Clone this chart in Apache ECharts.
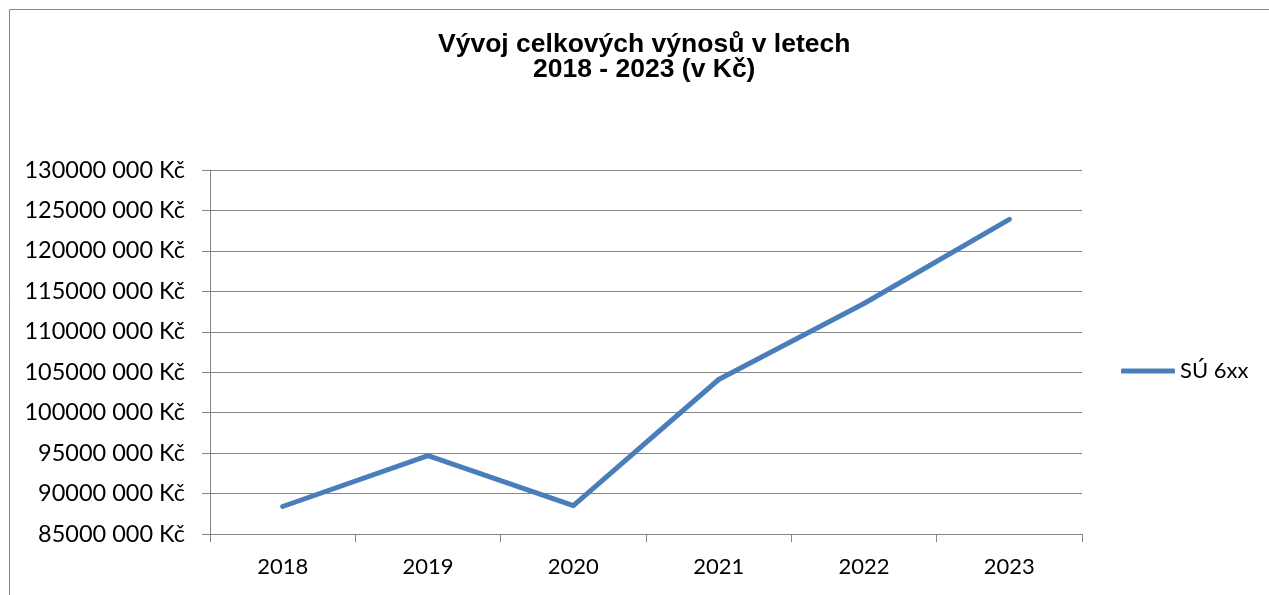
<!DOCTYPE html>
<html>
<head>
<meta charset="utf-8">
<title>Vývoj celkových výnosů</title>
<script src="https://cdn.jsdelivr.net/npm/echarts@6/dist/echarts.min.js"></script>
<style>
  html, body { margin: 0; padding: 0; background: #fff; }
  #chart { width: 1269px; height: 595px; }
</style>
</head>
<body>
<div id="chart"></div>
<script>
// data
const years = ["2018", "2019", "2020", "2021", "2022", "2023"];
const revenue = [88400000, 94700000, 88500000, 104100000, 113500000, 123900000];
const seriesName = "SÚ 6xx";
const titleLine1 = "Vývoj celkových výnosů v letech";
const titleLine2 = "2018 - 2023 (v Kč)";

// "130000 000 Kč" style: only the last group is separated
function formatKc(v) {
  const thousands = Math.floor(v / 1000);
  const rest = String(v % 1000).padStart(3, "0");
  return thousands + " " + rest + " Kč";
}

const chart = echarts.init(document.getElementById("chart"));

const gray = "#868686";
const blue = "#4a7ebb";

const titleFont = {
  fontFamily: "Liberation Sans",
  fontWeight: "bold",
  fontSize: 26.5,
  lineHeight: 25,
  color: "#000"
};

const option = {
  animation: false,
  backgroundColor: "#fff",
  textStyle: { fontFamily: "Lato" },
  title: [
    { text: titleLine1, left: 438, top: 32, padding: 0, textStyle: titleFont },
    { text: titleLine2, left: 533, top: 57, padding: 0, textStyle: titleFont }
  ],
  graphic: [
    {
      type: "rect",
      shape: { x: 9.5, y: 9.5, width: 1400, height: 700 },
      style: { fill: null, stroke: gray, lineWidth: 1 },
      silent: true
    }
  ],
  legend: {
    data: [seriesName],
    left: 1116,
    top: 355,
    icon: "roundRect",
    itemWidth: 54,
    itemHeight: 5,
    textStyle: { fontFamily: "Lato", fontSize: 22, color: "#000" }
  },
  grid: {
    left: 210,
    right: 187,
    top: 170,
    bottom: 61,
    containLabel: false
  },
  xAxis: {
    type: "category",
    data: years,
    boundaryGap: true,
    axisLine: { lineStyle: { color: gray, width: 1 } },
    axisTick: { show: true, length: 8, lineStyle: { color: gray } },
    axisLabel: { color: "#000", fontFamily: "Lato", fontSize: 22, margin: 22 }
  },
  yAxis: {
    type: "value",
    min: 85000000,
    max: 130000000,
    interval: 5000000,
    axisLine: { show: true, lineStyle: { color: gray, width: 1 } },
    axisTick: { show: true, length: 8, lineStyle: { color: gray } },
    splitLine: { lineStyle: { color: gray, width: 1 } },
    axisLabel: {
      color: "#000",
      fontFamily: "Lato",
      fontSize: 23.5,
      margin: 25,
      formatter: formatKc
    }
  },
  series: [
    {
      name: seriesName,
      type: "line",
      data: revenue,
      symbol: "none",
      lineStyle: { color: blue, width: 5, cap: "round", join: "round" },
      itemStyle: { color: blue }
    }
  ]
};

chart.setOption(option);
window.addEventListener("resize", function () { chart.resize(); });
</script>
</body>
</html>
